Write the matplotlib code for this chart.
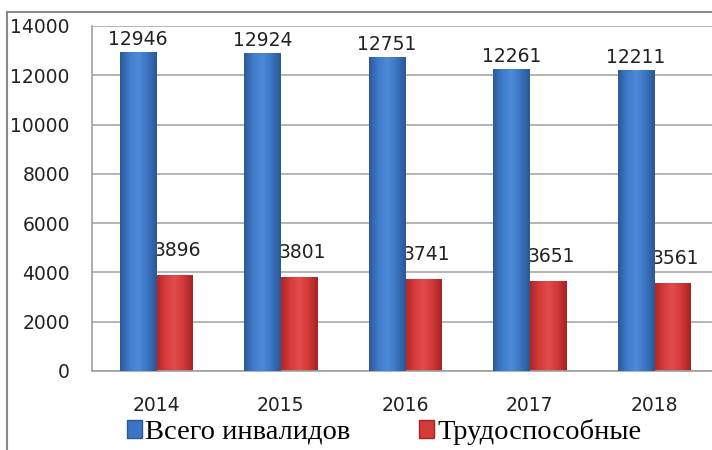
import matplotlib.pyplot as plt
import numpy as np
from matplotlib.colors import LinearSegmentedColormap
from matplotlib.lines import Line2D
from matplotlib.patches import Patch

years = ['2014', '2015', '2016', '2017', '2018']
total = [12946, 12924, 12751, 12261, 12211]
able = [3896, 3801, 3741, 3651, 3561]
names = ['Всего инвалидов', 'Трудоспособные']

blue_cmap = LinearSegmentedColormap.from_list('b', ['#2d5a9a', '#3f7ccc', '#4e8ad8', '#3a74c2', '#2c5893'])
red_cmap = LinearSegmentedColormap.from_list('r', ['#ad2626', '#d63b3b', '#e24c4c', '#d23838', '#a42424'])


def shade(ax, bars, cmap):
    grad = np.linspace(0, 1, 64).reshape(1, -1)
    for b in bars:
        x, y = b.get_x(), b.get_y()
        w, h = b.get_width(), b.get_height()
        im = ax.imshow(grad, cmap=cmap, aspect='auto', extent=(x, x + w, y, y + h),
                       zorder=b.get_zorder(), interpolation='bilinear')
        im.set_clip_path(b)


fig = plt.figure(figsize=(7.12, 4.5), dpi=100)
ax = fig.add_axes([92 / 712, 1 - 371 / 450, 620 / 712, 345 / 450])

x = np.arange(len(years))
w = 0.29
b1 = ax.bar(x - w / 2, total, w, color='#3b76c4', zorder=3)
b2 = ax.bar(x + w / 2, able, w, color='#d43a3a', zorder=2)
shade(ax, b1, blue_cmap)
shade(ax, b2, red_cmap)

for xi, v in zip(x, total):
    ax.annotate(str(v), (xi - w / 2, v), xytext=(0, 2), textcoords='offset points',
                ha='center', va='bottom', fontsize=13.5, color='#222222', zorder=4)
for xi, v in zip(x, able):
    ax.annotate(str(v), (xi + w / 2, v), xytext=(2.5, 11), textcoords='offset points',
                ha='center', va='bottom', fontsize=13.5, color='#222222', zorder=2.5)

ax.set_xlim(-0.515, 4.466)
ax.set_ylim(0, 14000)
ax.set_yticks(np.arange(0, 14001, 2000))
ax.set_xticks(x)
ax.set_xticklabels(years)
ax.tick_params(axis='both', length=0, labelsize=13.5, labelcolor='#222222')
ax.tick_params(axis='y', pad=16)
ax.tick_params(axis='x', pad=18)
ax.yaxis.grid(True, color='#a8a8a8', linewidth=1.2, zorder=0)
ax.set_axisbelow(True)
for s in ['top', 'right']:
    ax.spines[s].set_visible(False)
for s in ['left', 'bottom']:
    ax.spines[s].set_color('#a0a0a0')
    ax.spines[s].set_linewidth(1.2)

# outer frame
fig.add_artist(Line2D([7 / 712, 7 / 712], [0, 1 - 12 / 450], transform=fig.transFigure,
                      color='#8a8a8a', linewidth=1.5))
fig.add_artist(Line2D([7 / 712, 1], [1 - 12 / 450, 1 - 12 / 450], transform=fig.transFigure,
                      color='#8a8a8a', linewidth=1.5))

handles = [Patch(facecolor='#3b76c4', edgecolor='#2a5796'),
           Patch(facecolor='#d43a3a', edgecolor='#a82222')]
fig.legend(handles, names, loc='center', bbox_to_anchor=(384 / 712, 1 - 432 / 450), ncol=2,
           frameon=False, prop={'family': 'Liberation Serif', 'size': 20.5},
           handlelength=0.55, handleheight=0.55, handletextpad=0.1, columnspacing=2.4,
           borderpad=0, borderaxespad=0)

fig.savefig('out.png', dpi=100)
